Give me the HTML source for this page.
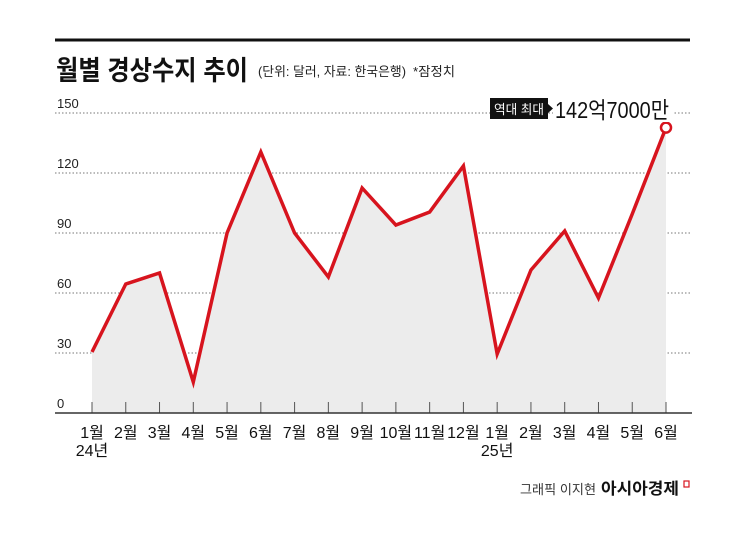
<!DOCTYPE html>
<html><head><meta charset="utf-8"><style>
body{margin:0;background:#fff;}
svg text{font-family:"Liberation Sans","Noto Sans CJK KR",sans-serif;}
</style></head><body>
<svg width="745" height="537" viewBox="0 0 745 537" xmlns="http://www.w3.org/2000/svg">
<line x1="55" y1="40" x2="690" y2="40" stroke="#111" stroke-width="3"/>
<text x="56" y="80" font-size="27" font-weight="bold" fill="#111" textLength="192" lengthAdjust="spacingAndGlyphs">월별 경상수지 추이</text>
<text x="258" y="76" font-size="13" fill="#222" textLength="148" lengthAdjust="spacingAndGlyphs">(단위: 달러, 자료: 한국은행)</text>
<text x="413" y="76" font-size="13" fill="#222" textLength="42" lengthAdjust="spacingAndGlyphs">*잠정치</text>
<g id="grid"></g>
<path id="area" fill="#ececec"/>
<g id="ticks"></g>
<line x1="55" y1="413" x2="692" y2="413" stroke="#333" stroke-width="1.5"/>
<polyline id="line" fill="none" stroke="#d7141e" stroke-width="3.5" stroke-linejoin="miter"/>
<circle id="lastpt" r="5" fill="#fff" stroke="#d7141e" stroke-width="2.5"/>
<g id="xlabels"></g>
<rect x="490" y="98" width="58" height="21" fill="#111"/>
<text x="519" y="114" font-size="13" fill="#fff" text-anchor="middle" textLength="50" lengthAdjust="spacingAndGlyphs">역대 최대</text>
<polygon points="548,104 553,108.5 548,113" fill="#111"/>
<rect x="553" y="96" width="120" height="26" fill="#fff"/>
<text x="555" y="118" font-size="23" fill="#111" textLength="114" lengthAdjust="spacingAndGlyphs">142억7000만</text>
<text x="596" y="494" font-size="13" fill="#333" text-anchor="end" textLength="76" lengthAdjust="spacingAndGlyphs">그래픽 이지현</text>
<text x="601" y="494" font-size="16" font-weight="bold" fill="#111" textLength="78" lengthAdjust="spacingAndGlyphs">아시아경제</text>
<rect x="684" y="481" width="5" height="6" fill="none" stroke="#d7141e" stroke-width="1.2"/>
</svg>
<script>
const categories=["1월","2월","3월","4월","5월","6월","7월","8월","9월","10월","11월","12월","1월","2월","3월","4월","5월","6월"];
const yearLabels=["24년","","","","","","","","","","","","25년","","","","",""];
const values=[30.5,64.5,70,15.5,90,130.5,90,68,112.5,94,100.5,123.5,29.5,71.5,91,57.5,99.5,142.7];
const yTicks=[0,30,60,90,120,150];
const NS="http://www.w3.org/2000/svg";
const x0=92,x1=666,yb=413,ppu=2.0;
function X(i){return x0+i*(x1-x0)/(categories.length-1);}
function Y(v){return yb-v*ppu;}
const grid=document.getElementById('grid');
yTicks.forEach(t=>{
  if(t>0){
    const l=document.createElementNS(NS,'line');
    l.setAttribute('x1',55);l.setAttribute('x2',690);l.setAttribute('y1',Y(t));l.setAttribute('y2',Y(t));
    l.setAttribute('stroke','#777');l.setAttribute('stroke-dasharray','1.5,2');
    
    
    grid.appendChild(l);
  }
  const tx=document.createElementNS(NS,'text');
  tx.setAttribute('x',57);tx.setAttribute('y',Y(t)-5);tx.setAttribute('font-size','13');tx.setAttribute('fill','#222');
  tx.textContent=t;
  
  
  grid.appendChild(tx);
});
const pts=values.map((v,i)=>X(i)+','+Y(v));
document.getElementById('line').setAttribute('points',pts.join(' '));
document.getElementById('area').setAttribute('d','M'+X(0)+','+yb+' L'+pts.join(' L')+' L'+X(values.length-1)+','+yb+' Z');
const lp=document.getElementById('lastpt');
lp.setAttribute('cx',X(values.length-1));lp.setAttribute('cy',Y(values[values.length-1]));
const ticks=document.getElementById('ticks'),xl=document.getElementById('xlabels');
categories.forEach((c,i)=>{
  const l=document.createElementNS(NS,'line');
  l.setAttribute('x1',X(i));l.setAttribute('x2',X(i));l.setAttribute('y1',yb-11);l.setAttribute('y2',yb);
  l.setAttribute('stroke','#555');
  
  
  ticks.appendChild(l);
  const t=document.createElementNS(NS,'text');
  t.setAttribute('x',X(i));t.setAttribute('y',438);t.setAttribute('font-size','16');t.setAttribute('text-anchor','middle');t.setAttribute('fill','#111');
  t.textContent=c;
  
  
  xl.appendChild(t);
  if(yearLabels[i]){
    const y=document.createElementNS(NS,'text');
    y.setAttribute('x',X(i));y.setAttribute('y',456);y.setAttribute('font-size','16');y.setAttribute('text-anchor','middle');y.setAttribute('fill','#111');
    y.textContent=yearLabels[i];
    
    
    xl.appendChild(y);
  }
});
</script>
</body></html>
